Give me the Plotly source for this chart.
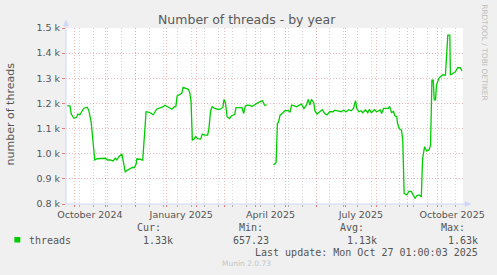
import pandas as pd
import plotly.graph_objects as go

# ---------------- data ----------------
START = pd.Timestamp("2024-09-22 01:00:03")
END = pd.Timestamp("2025-10-27 01:00:03")

# days since START for each sample, and the thread count at that sample
day_offsets = [
    1.3, 4, 5.3, 8, 10.7, 12, 14, 15.3, 18, 21.3,
    23, 25.3, 27.3, 29, 31.3, 34.7, 39.7, 42, 44.7, 47.3,
    49.7, 51.3, 53.3, 56.3, 58, 59.7, 62, 64.7, 67.3, 68.7,
    70.7, 71.3, 74.7, 77.3, 78.7, 80.7, 84, 86.3, 88, 91.3,
    94.7, 98, 99.7, 103, 106.7, 109, 110.7, 112, 114.7, 116.7,
    118, 120.7, 123.3, 124.7, 126, 127.3, 129, 130.7, 132.7, 135.7,
    137.3, 140, 142.7, 144, 145.7, 147.3, 150, 153.3, 155.7, 158,
    159.3, 160.7, 162.3, 164.7, 166.7, 170, 171.3, 175.7, 177.3, 179,
    180.7, 182.3, 185.7, 187.3, 190, 192.3, 195.7, 198, 200, 202.3,
    205, 209, 210.7, 211.7, 213, 214, 215.7, 217.3, 220.7, 224,
    225.7, 227.3, 230.7, 232.3, 235, 237.3, 239.7, 242.3, 244, 245.7,
    247.3, 249.7, 250.7, 253, 255.7, 258.3, 260.7, 263, 265.7, 269,
    270.7, 274, 277.3, 279.7, 282.3, 285, 287.3, 289.7, 291.7, 293,
    295, 297.3, 299, 301.7, 304, 305.7, 307.7, 310.7, 313, 316.7,
    318, 320, 322.3, 324.7, 326, 328, 330, 331.3, 333.3, 334,
    335.7, 338, 339.3, 340.7, 343.3, 345.7, 348, 350, 351.7, 353.3,
    355.7, 358, 359.3, 361.3, 363.3, 365.7, 367.3, 368.7, 370, 371,
    372.3, 373.3, 375.7, 377.3, 379.3, 382.3, 383.3, 384.7, 386.7, 387.3,
    390, 392.3, 394.7, 397.3, 399,
]
threads = [
    1190, 1190, 1158, 1141, 1145, 1158, 1155, 1165, 1181, 1185,
    1172, 1127, 1048, 975, 980, 982, 982, 975, 975, 971,
    982, 975, 988, 999, 962, 928, 935, 942, 946, 944,
    959, 979, 978, 974, 1055, 1167, 1164, 1158, 1155, 1177,
    1181, 1187, 1193, 1185, 1177, 1186, 1188, 1230, 1234, 1240,
    1264, 1260, 1256, 1243, 1207, 1055, 1058, 1068, 1060, 1058,
    1078, 1074, 1074, 1100, 1170, 1187, 1180, 1176, 1178, 1184,
    1216, 1203, 1147, 1140, 1150, 1157, 1183, 1183, 1184, 1160,
    1190, 1193, 1192, 1188, 1196, 1200, 1207, 1210, 1193, 1193,
    None, 955, 960, 964, 1121, 1124, 1154, 1158, 1171, 1171,
    1166, 1193, 1189, 1187, 1193, 1197, 1180, 1193, 1216, 1193,
    1216, 1203, 1171, 1158, 1167, 1175, 1160, 1154, 1167, 1167,
    1173, 1171, 1167, 1173, 1167, 1175, 1171, 1180, 1211, 1180,
    1167, 1171, 1163, 1175, 1163, 1176, 1163, 1175, 1167, 1174,
    1160, 1180, 1180, 1180, 1188, 1164, 1168, 1151, 1147, 1121,
    1100, 1094, 1055, 842, 836, 851, 849, 836, 822, 833,
    836, 829, 981, 1028, 1011, 1015, 1034, 1293, 1293, 1214,
    1214, 1273, 1300, 1306, 1313, 1313, 1390, 1472, 1472, 1313,
    1320, 1326, 1342, 1342, 1329,
]

y_ticks = [800, 900, 1000, 1100, 1200, 1300, 1400, 1500]
y_tick_labels = ["0.8 k", "0.9 k", "1.0 k", "1.1 k", "1.2 k", "1.3 k", "1.4 k", "1.5 k"]

month_starts = pd.date_range("2024-10-01", "2025-10-01", freq="MS")
x_label_text = {
    "2024-10": "October 2024",
    "2025-01": "January 2025",
    "2025-04": "April 2025",
    "2025-07": "July 2025",
    "2025-10": "October 2025",
}
x_tick_labels = [x_label_text.get(d.strftime("%Y-%m"), "") for d in month_starts]

series_name = "threads"
stat_headers = ["Cur:", "Min:", "Avg:", "Max:"]
stat_values = ["1.33k", "657.23", "1.13k", "1.63k"]
last_update = "Last update: Mon Oct 27 01:00:03 2025"
version_text = "Munin 2.0.73"

# ---------------- figure ----------------
W, H = 497, 275
L, R, T, B = 66, 31, 28, 71
PW, PH = W - L - R, H - T - B


def px(x):
    return (x - L) / PW


def py(y):
    return (T + PH - y) / PH


x_dates = START + pd.to_timedelta(day_offsets, unit="D")

LINE_GREEN = "#00CC00"
TEXT = "#555555"
MAJOR_GRID = "rgba(228,140,140,0.6)"
MINOR_GRID = "rgba(170,170,170,0.5)"
AXIS_COL = "#CFD6F8"
DOTS = "1px,2px"

fig = go.Figure()
fig.add_trace(go.Scatter(
    x=x_dates, y=threads, mode="lines",
    line=dict(color=LINE_GREEN, width=1.3),
    connectgaps=False, showlegend=False, hoverinfo="skip",
))

fig.update_layout(
    width=W, height=H,
    margin=dict(l=L, r=R, t=T, b=B, pad=0),
    paper_bgcolor="#F0F0F0",
    plot_bgcolor="#FFFFFF",
    showlegend=False,
    font=dict(family="DejaVu Sans", color=TEXT),
    xaxis=dict(
        type="date",
        range=[START, END],
        tickmode="array",
        tickvals=month_starts,
        ticktext=x_tick_labels,
        ticklabelshift=15,
        tickfont=dict(family="DejaVu Sans", size=9.5, color=TEXT),
        ticks="outside", ticklen=2, tickcolor="rgba(230,110,110,0.9)", tickwidth=1,
        showgrid=True, gridcolor=MAJOR_GRID, griddash=DOTS, gridwidth=1,
        minor=dict(
            dtick=14 * 86400000, tick0="2024-10-06",
            showgrid=True, gridcolor=MINOR_GRID, griddash=DOTS, gridwidth=1,
            ticks="outside", ticklen=2, tickcolor="rgba(160,160,160,0.8)",
        ),
        showline=False, zeroline=False, fixedrange=True,
    ),
    yaxis=dict(
        range=[800, 1500],
        tickmode="array",
        tickvals=y_ticks,
        ticktext=y_tick_labels,
        tickfont=dict(family="DejaVu Sans", size=9.5, color=TEXT),
        ticks="outside", ticklen=3, tickcolor="rgba(230,110,110,0.9)",
        showgrid=True, gridcolor=MAJOR_GRID, griddash=DOTS, gridwidth=1,
        showline=False, zeroline=False, fixedrange=True,
    ),
)

shapes = []
# axis lines with arrows
shapes.append(dict(type="line", xref="paper", yref="paper",
                   x0=px(66), x1=px(66), y0=py(204), y1=py(22),
                   line=dict(color=AXIS_COL, width=1)))
shapes.append(dict(type="line", xref="paper", yref="paper",
                   x0=px(66), x1=px(470), y0=py(204), y1=py(204),
                   line=dict(color=AXIS_COL, width=1)))
shapes.append(dict(type="path", xref="paper", yref="paper",
                   path=f"M {px(63.5)} {py(26)} L {px(68.5)} {py(26)} L {px(66)} {py(20)} Z",
                   fillcolor=AXIS_COL, line=dict(color=AXIS_COL, width=0.5)))
shapes.append(dict(type="path", xref="paper", yref="paper",
                   path=f"M {px(468)} {py(201.5)} L {px(468)} {py(206.5)} L {px(474)} {py(204)} Z",
                   fillcolor=AXIS_COL, line=dict(color=AXIS_COL, width=0.5)))
# legend swatch
shapes.append(dict(type="rect", xref="paper", yref="paper",
                   x0=px(14), x1=px(20), y0=py(242.5), y1=py(237),
                   fillcolor=LINE_GREEN, line=dict(width=0)))
fig.update_layout(shapes=shapes)

ann = []


def text(s, x, y, size, family="DejaVu Sans", anchor="left", color=TEXT, angle=0):
    ann.append(dict(text=s, xref="paper", yref="paper", x=px(x), y=py(y),
                    xanchor=anchor, yanchor="middle", showarrow=False,
                    textangle=angle, font=dict(family=family, size=size, color=color)))


text("Number of threads - by year", 248.5, 19, 12.5, anchor="center", color="#5a5a5a")
text("number of threads", 10, 114, 11, anchor="center", angle=-90)
text("RRDTOOL / TOBI OETIKER", 488, 53, 7.5, anchor="center", color="#bdbdbd", angle=90)

MONO = "DejaVu Sans Mono"
text(series_name, 26.5, 240, 10, family=MONO)
head_right = [163.5, 266, 368.5, 470.5]
val_right = [176, 273, 381, 483]
for h, hr in zip(stat_headers, head_right):
    text(h, hr, 228, 10, family=MONO, anchor="right")
for v, vr in zip(stat_values, val_right):
    text(v, vr, 240, 10, family=MONO, anchor="right")
text(last_update, 483, 252, 10, family=MONO, anchor="right")
text(version_text, 248, 263.5, 7.5, anchor="center", color="#c4c4c4")

fig.update_layout(annotations=ann)

fig.write_html("out.html")
